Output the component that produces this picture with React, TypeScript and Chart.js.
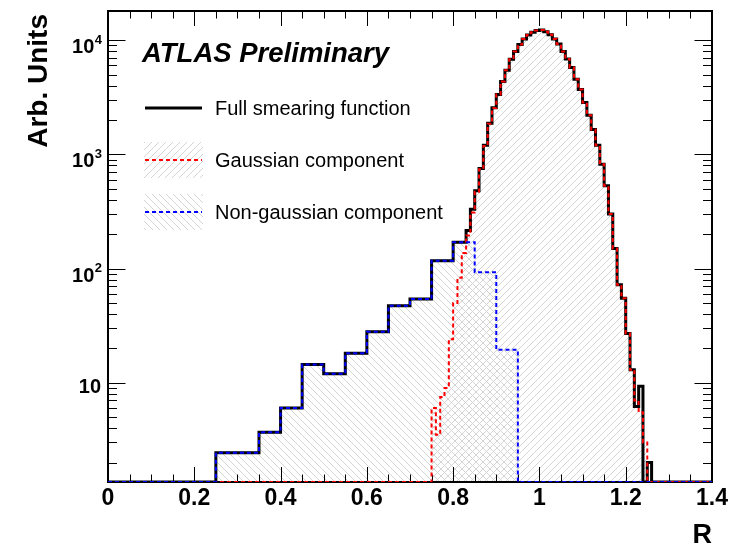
import React, { useEffect, useRef } from "react";
import { Chart, registerables } from "chart.js";

Chart.register(...registerables);

// ---------- axis ranges & tick labels ----------
const X_MIN = 0;
const X_MAX = 1.4;
const Y_MIN = 1.35;
const Y_MAX = 18000;
const X_TICK_VALUES = [0, 0.2, 0.4, 0.6, 0.8, 1.0, 1.2, 1.4];
const X_TICK_LABELS = ["0", "0.2", "0.4", "0.6", "0.8", "1", "1.2", "1.4"];
const Y_TICK_VALUES = [10, 100, 1000, 10000];
const Y_TICK_BASES = ["10", "10", "10", "10"];
const Y_TICK_EXPONENTS = ["", "2", "3", "4"];

const X_TITLE = "R";
const Y_TITLE = "Arb. Units";
const ATLAS_LABEL = "ATLAS Preliminary";
const LEGEND_LABELS = ["Full smearing function", "Gaussian component", "Non-gaussian component"];

// ---------- histogram data ----------
const COARSE_WIDTH = 0.05;
const FINE_WIDTH = 0.01;

// Non-gaussian component: 0.05 bins from 0 to 1.40
const NONGAUSS_START = 0.0;
const NONGAUSS_VALUES = [
  0, 0, 0, 0, 0,
  2.43, 2.43, 3.69, 6.0, 14.4, 12.0, 18.1, 27.9, 47.1, 54, 117, 170, 92.7, 19.4,
  0, 0, 0, 0, 0, 0, 0, 0, 0,
];

// Gaussian component: 0.01 bins from 0.75 to 1.25
const GAUSS_START = 0.75;
const GAUSS_VALUES = [
  6, 3.5, 7.5, 9, 24,
  50, 83, 137, 195, 310,
  470, 740, 1180, 1850, 2550,
  3350, 4350, 5450, 6800, 7950,
  9150, 10250, 11100, 11750, 12150,
  12250, 11850, 11150, 10250, 9250,
  7950, 6850, 5750, 4550, 3700,
  2850, 2200, 1650, 1200, 820,
  530, 300, 150, 72, 55,
  27, 13, 7, 5.5, 3,
];

// Full smearing function: 0.05 bins from 0 to 0.80, then 0.01 bins from 0.80 to 1.26
const FULL_COARSE_START = 0.0;
const FULL_COARSE_VALUES = [0, 0, 0, 0, 0, 2.43, 2.43, 3.69, 6.0, 14.4, 12.0, 18.1, 27.9, 47.1, 54, 117];
const FULL_FINE_START = 0.8;
const FULL_FINE_VALUES = [
  170, 170, 170, 215, 330,
  480, 750, 1200, 1870, 2560,
  3350, 4350, 5450, 6800, 7950,
  9150, 10250, 11100, 11750, 12150,
  12250, 11850, 11150, 10250, 9250,
  7950, 6850, 5750, 4550, 3700,
  2850, 2200, 1650, 1200, 820,
  530, 300, 150, 72, 55,
  27, 13, 6.2, 9.3, 0, 2,
];

const FONT = '"Liberation Sans", Arial, Helvetica, sans-serif';

type Seg = { lo: number; hi: number; v: number };

const r3 = (v: number) => Math.round(v * 10000) / 10000;

function binsToSegs(start: number, width: number, values: number[]): Seg[] {
  return values.map((v, i) => ({ lo: r3(start + i * width), hi: r3(start + (i + 1) * width), v }));
}

function segsToPoints(segs: Seg[]) {
  const all: Seg[] = [];
  if (segs.length && segs[0].lo > X_MIN) all.push({ lo: X_MIN, hi: segs[0].lo, v: 0 });
  all.push(...segs);
  const last = all[all.length - 1];
  if (last.hi < X_MAX) all.push({ lo: last.hi, hi: X_MAX, v: 0 });
  const f = (v: number) => (v > Y_MIN ? v : Y_MIN);
  const pts = all.map((s) => ({ x: s.lo, y: f(s.v) }));
  const end = all[all.length - 1];
  pts.push({ x: end.hi, y: f(end.v) });
  return pts;
}

function makeHatch(dir: number, color: string): CanvasPattern | string {
  const s = 7;
  const c = document.createElement("canvas");
  c.width = s;
  c.height = s;
  const g = c.getContext("2d");
  if (!g) return color;
  g.strokeStyle = color;
  g.lineWidth = 1;
  g.beginPath();
  for (const k of [-1, 0, 1]) {
    if (dir > 0) {
      g.moveTo(-2 + k * s, s + 2);
      g.lineTo(s + 2 + k * s, -2);
    } else {
      g.moveTo(-2 + k * s, -2);
      g.lineTo(s + 2 + k * s, s + 2);
    }
  }
  g.stroke();
  return g.createPattern(c, "repeat") || color;
}

export default function App() {
  const canvasRef = useRef<HTMLCanvasElement | null>(null);

  useEffect(() => {
    const canvas = canvasRef.current;
    if (!canvas) return;

    const hatchColor = "#d4d4d4";
    const gaussPattern = makeHatch(1, hatchColor);
    const ngPattern = makeHatch(-1, hatchColor);

    const fullPts = segsToPoints([
      ...binsToSegs(FULL_COARSE_START, COARSE_WIDTH, FULL_COARSE_VALUES),
      ...binsToSegs(FULL_FINE_START, FINE_WIDTH, FULL_FINE_VALUES),
    ]);
    const gaussPts = segsToPoints(binsToSegs(GAUSS_START, FINE_WIDTH, GAUSS_VALUES));
    const ngPts = segsToPoints(binsToSegs(NONGAUSS_START, COARSE_WIDTH, NONGAUSS_VALUES));

    const rootAxes = {
      id: "rootAxes",
      beforeDatasetsDraw(chart: any) {
        const { ctx, chartArea: a, scales } = chart;
        const x = scales.x;
        const y = scales.y;
        ctx.save();
        ctx.strokeStyle = "#000";
        ctx.lineWidth = 1;
        const nX = Math.round((X_MAX - X_MIN) / 0.05);
        for (let i = 0; i <= nX; i++) {
          const v = X_MIN + i * 0.05;
          const px = Math.round(x.getPixelForValue(v)) + 0.5;
          const len = i % 4 === 0 ? 15 : 7.5;
          ctx.beginPath();
          ctx.moveTo(px, a.bottom);
          ctx.lineTo(px, a.bottom - len);
          ctx.moveTo(px, a.top);
          ctx.lineTo(px, a.top + len);
          ctx.stroke();
        }
        for (let d = 0; d <= 4; d++) {
          for (let m = 1; m <= 9; m++) {
            const v = m * Math.pow(10, d);
            if (v < Y_MIN || v > Y_MAX) continue;
            const py = Math.round(y.getPixelForValue(v)) + 0.5;
            const len = m === 1 ? 17.5 : 9;
            ctx.beginPath();
            ctx.moveTo(a.left, py);
            ctx.lineTo(a.left + len, py);
            ctx.moveTo(a.right, py);
            ctx.lineTo(a.right - len, py);
            ctx.stroke();
          }
        }
        ctx.lineWidth = 2;
        ctx.strokeRect(a.left, a.top, a.right - a.left, a.bottom - a.top);
        ctx.restore();
      },
      afterDraw(chart: any) {
        const { ctx, chartArea: a, scales } = chart;
        const x = scales.x;
        const y = scales.y;
        ctx.save();
        ctx.fillStyle = "#000";
        ctx.font = `bold 23px ${FONT}`;
        ctx.textAlign = "center";
        ctx.textBaseline = "alphabetic";
        X_TICK_VALUES.forEach((v, i) => {
          ctx.fillText(X_TICK_LABELS[i], x.getPixelForValue(v), a.bottom + 23);
        });
        Y_TICK_VALUES.forEach((v, i) => {
          const py = y.getPixelForValue(v);
          const exp = Y_TICK_EXPONENTS[i];
          const rightEdge = a.left - 6;
          if (!exp) {
            ctx.font = `bold 20px ${FONT}`;
            ctx.textAlign = "right";
            ctx.fillText(Y_TICK_BASES[i], rightEdge - 1, py + 10);
          } else {
            ctx.font = `bold 13px ${FONT}`;
            const supW = ctx.measureText(exp).width;
            ctx.textAlign = "left";
            ctx.fillText(exp, rightEdge - supW, py + 3.5);
            ctx.font = `bold 20px ${FONT}`;
            ctx.textAlign = "right";
            ctx.fillText(Y_TICK_BASES[i], rightEdge - supW - 0.5, py + 13);
          }
        });
        ctx.font = `bold 27px ${FONT}`;
        ctx.textAlign = "right";
        ctx.fillText(X_TITLE, a.right, 543);
        ctx.save();
        ctx.font = `bold 28px ${FONT}`;
        ctx.translate(47, 14);
        ctx.rotate(-Math.PI / 2);
        ctx.textAlign = "right";
        ctx.fillText(Y_TITLE, 0, 0);
        ctx.restore();

        ctx.font = `italic bold 27.5px ${FONT}`;
        ctx.textAlign = "left";
        ctx.fillText(ATLAS_LABEL, 142, 62);

        const lx0 = 145;
        const lx1 = 202;
        ctx.lineCap = "butt";
        ctx.strokeStyle = "#000";
        ctx.lineWidth = 3;
        ctx.setLineDash([]);
        ctx.beginPath();
        ctx.moveTo(lx0, 108);
        ctx.lineTo(lx1, 108);
        ctx.stroke();
        ctx.fillStyle = gaussPattern as any;
        ctx.fillRect(lx0 - 1, 142, lx1 - lx0 + 2, 36);
        ctx.strokeStyle = "#ff0000";
        ctx.lineWidth = 2;
        ctx.setLineDash([4, 3]);
        ctx.beginPath();
        ctx.moveTo(lx0, 160);
        ctx.lineTo(lx1, 160);
        ctx.stroke();
        ctx.fillStyle = ngPattern as any;
        ctx.fillRect(lx0 - 1, 194, lx1 - lx0 + 2, 36);
        ctx.strokeStyle = "#0000ff";
        ctx.beginPath();
        ctx.moveTo(lx0, 212);
        ctx.lineTo(lx1, 212);
        ctx.stroke();
        ctx.setLineDash([]);

        ctx.fillStyle = "#000";
        ctx.font = `20px ${FONT}`;
        ctx.textAlign = "left";
        ctx.fillText(LEGEND_LABELS[0], 215, 115);
        ctx.fillText(LEGEND_LABELS[1], 215, 167);
        ctx.fillText(LEGEND_LABELS[2], 215, 218.5);
        ctx.restore();
      },
    };

    const common = {
      stepped: true as const,
      pointRadius: 0,
      pointHoverRadius: 0,
      borderJoinStyle: "miter" as const,
      borderCapStyle: "butt" as const,
      tension: 0,
    };

    const chart = new Chart(canvas, {
      type: "line",
      data: {
        datasets: [
          {
            ...common,
            label: LEGEND_LABELS[0],
            data: fullPts,
            borderColor: "#000000",
            borderWidth: 3,
            fill: false,
            order: 3,
          },
          {
            ...common,
            label: LEGEND_LABELS[1],
            data: gaussPts,
            borderColor: "#ff0000",
            borderWidth: 2,
            borderDash: [4, 3],
            fill: "start",
            backgroundColor: gaussPattern as any,
            order: 2,
          },
          {
            ...common,
            label: LEGEND_LABELS[2],
            data: ngPts,
            borderColor: "#0000ff",
            borderWidth: 2,
            borderDash: [4, 3],
            fill: "start",
            backgroundColor: ngPattern as any,
            order: 1,
          },
        ],
      },
      options: {
        animation: false,
        responsive: false,
        maintainAspectRatio: false,
        devicePixelRatio: 1,
        layout: { padding: { left: 108, top: 11, right: 26, bottom: 64 } },
        scales: {
          x: { type: "linear", min: X_MIN, max: X_MAX, display: false },
          y: { type: "logarithmic", min: Y_MIN, max: Y_MAX, display: false },
        },
        plugins: {
          legend: { display: false },
          tooltip: { enabled: false },
          filler: { drawTime: "beforeDatasetsDraw" } as any,
        },
        events: [],
      },
      plugins: [rootAxes],
    });

    return () => {
      chart.destroy();
    };
  }, []);

  return (
    <div style={{ position: "absolute", left: 0, top: 0, width: 738, height: 546, background: "#fff" }}>
      <canvas ref={canvasRef} width={738} height={546} style={{ display: "block" }} />
    </div>
  );
}
